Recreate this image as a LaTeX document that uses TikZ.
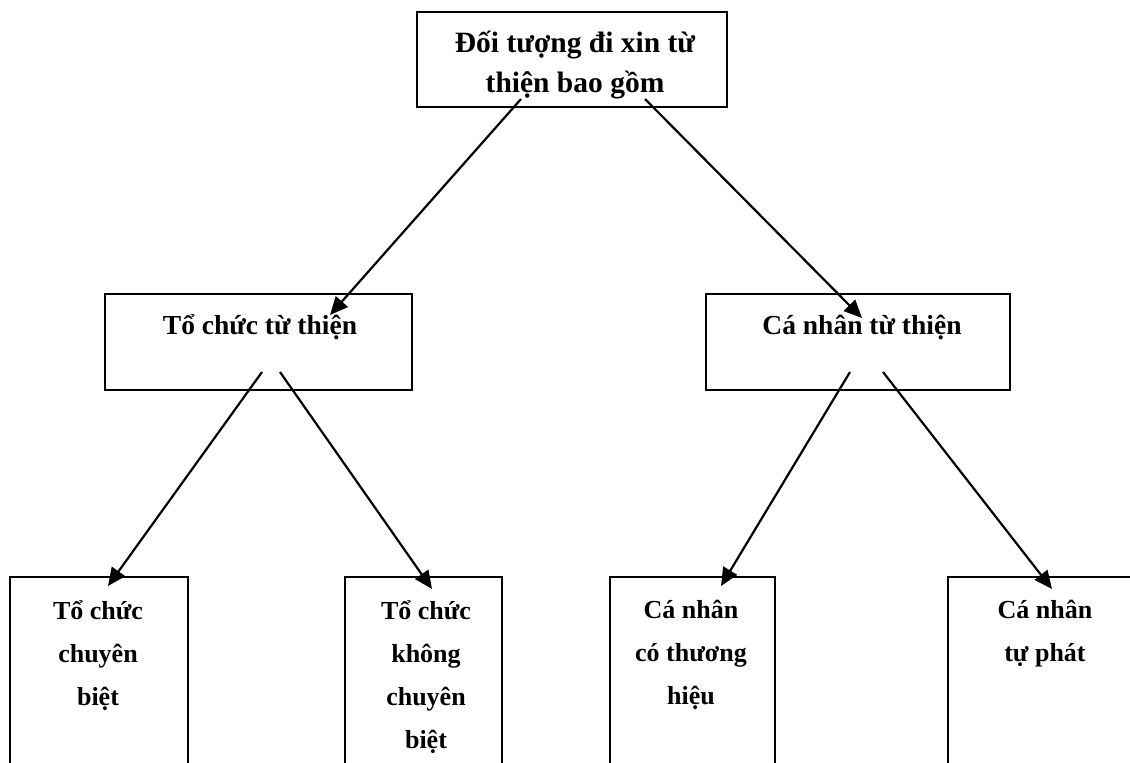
\documentclass[tikz,border=0pt]{standalone}
\usepackage{fontspec}
\setmainfont{Liberation Serif}
\usetikzlibrary{arrows.meta}
\begin{document}
\begin{tikzpicture}[x=1pt,y=-1pt,
  boxline/.style={draw=black,line width=2.2pt},
  lbl/.style={font=\fontsize{26}{43}\selectfont\bfseries,align=center,inner sep=0pt},
  toplbl/.style={font=\fontsize{29.5}{40}\selectfont\bfseries,align=center,inner sep=0pt},
  midlbl/.style={font=\fontsize{27.5}{40}\selectfont\bfseries,align=center,inner sep=0pt},
  conn/.style={draw=black,line width=2.2pt,-{Triangle[length=18pt,width=16pt]}}]
\useasboundingbox (0,0) rectangle (1130,763);
\begin{scope}
\clip (0,0) rectangle (1130,763);
% boxes
\draw[boxline] (417,12) rectangle (727,107);
\draw[boxline] (105,294) rectangle (412,390);
\draw[boxline] (706,294) rectangle (1010,390);
\draw[boxline] (10,780) |- (188,577) -- (188,780);
\draw[boxline] (345,780) |- (502,577) -- (502,780);
\draw[boxline] (610,780) |- (775,577) -- (775,780);
\draw[boxline] (948,780) |- (1140,577) -- (1140,780);
\end{scope}
% labels
\node[toplbl] (top) at (575,65) {Đối tượng đi xin từ\\thiện bao gồm};
\node[midlbl] (org) at (260,327) {Tổ chức từ thiện};
\node[midlbl] (ind) at (862,327) {Cá nhân từ thiện};
\node[lbl,anchor=north] (o1) at (98,600) {Tổ chức\\chuyên\\biệt};
\node[lbl,anchor=north] (o2) at (426,600) {Tổ chức\\không\\chuyên\\biệt};
\node[lbl,anchor=north] (i1) at (691,600) {Cá nhân\\có thương\\hiệu};
\node[lbl,anchor=north] (i2) at (1045,600) {Cá nhân\\tự phát};
% connector endpoints
\coordinate (t1) at (521,99);
\coordinate (t2) at (645,99);
\coordinate (orgE) at (330,315);
\coordinate (indE) at (862,318);
\coordinate (org1) at (262,372);
\coordinate (org2) at (280,372);
\coordinate (ind1) at (850,372);
\coordinate (ind2) at (883,372);
\coordinate (o1E) at (108,586);
\coordinate (o2E) at (432,589);
\coordinate (i1E) at (721,586);
\coordinate (i2E) at (1052,589);
% connectors
\draw[conn] (t1) -- (orgE);
\draw[conn] (t2) -- (indE);
\draw[conn] (org1) -- (o1E);
\draw[conn] (org2) -- (o2E);
\draw[conn] (ind1) -- (i1E);
\draw[conn] (ind2) -- (i2E);
\end{tikzpicture}
\end{document}
